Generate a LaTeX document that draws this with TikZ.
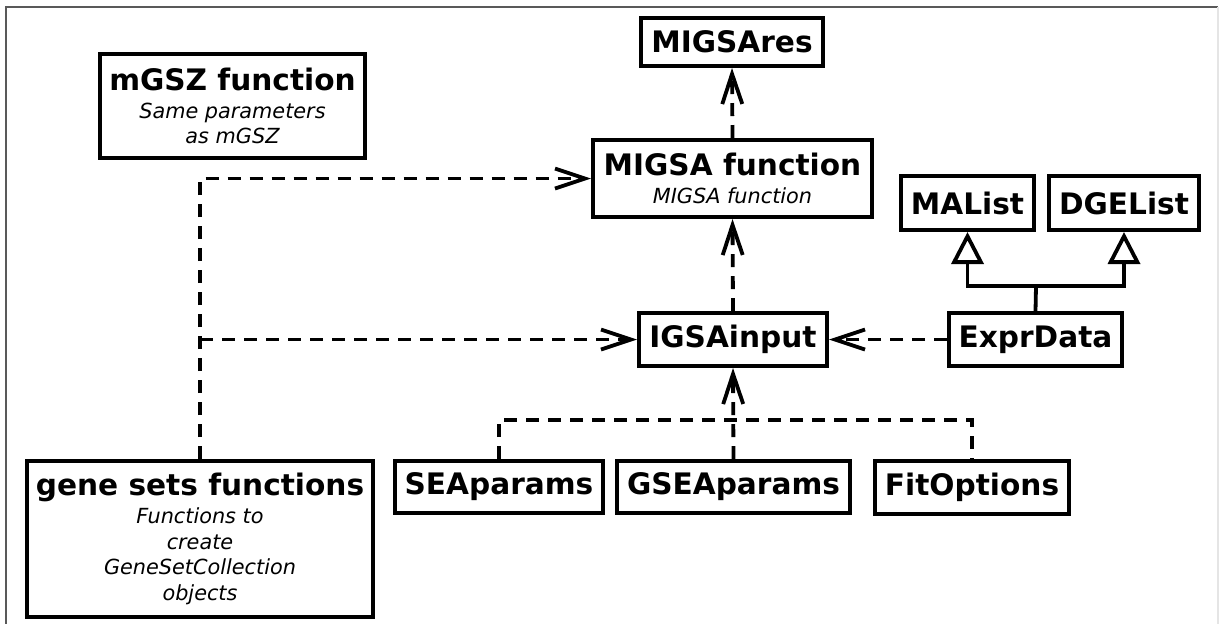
\documentclass[tikz,border=0pt]{standalone}
\usepackage{fontspec}
\setmainfont{DejaVu Sans}
\usepackage{tikz}
\usetikzlibrary{arrows.meta,calc}

\newcommand{\umltitle}[1]{{\bfseries\fontsize{14.8}{17}\selectfont #1}}
\newcommand{\umlnote}[1]{{\itshape #1}}

\begin{document}
\begin{tikzpicture}[x=0.5pt, y=-0.5pt,
    umlbox/.style={draw, line width=2pt, inner sep=0pt, align=center, fill=white,
                   font=\fontsize{10.4}{12.9}\selectfont},
    dep/.style={line width=1.9pt, dash pattern=on 6.5pt off 4.5pt,
                -{Straight Barb[length=15pt, width=10pt, line width=1.9pt]}},
    deplink/.style={line width=1.9pt, dash pattern=on 6.5pt off 4.5pt},
    inh/.style={line width=1.9pt, -{Triangle[open, length=16pt, width=16pt, line width=1.9pt]}},
    inhlink/.style={line width=1.9pt}]
    \useasboundingbox (0,0) rectangle (1219,623);
    \clip (0,0) rectangle (1219,623);

    % the frame
    \draw[gray!70!black, line width=1pt] (6,700) -- (6,6.5) -- (1218,6.5);
    \draw[gray!20, line width=1pt] (1218,6.5) -- (1218,700);

    % the boxes
    \node[umlbox, minimum width=265*0.5pt, minimum height=104*0.5pt] (mgsz) at (232.5,106)
        {\umltitle{mGSZ function}\\[1pt]\umlnote{Same parameters}\\\umlnote{as mGSZ}};
    \node[umlbox, minimum width=182*0.5pt, minimum height=48*0.5pt] (migsares) at (732,42)
        {\umltitle{MIGSAres}};
    \node[umlbox, minimum width=279*0.5pt, minimum height=77*0.5pt] (migsa) at (732.5,178.5)
        {\umltitle{MIGSA function}\\[1pt]\umlnote{MIGSA function}};
    \node[umlbox, minimum width=133*0.5pt, minimum height=54*0.5pt] (malist) at (967.5,203)
        {\umltitle{MAList}};
    \node[umlbox, minimum width=150*0.5pt, minimum height=54*0.5pt] (dgelist) at (1124,203)
        {\umltitle{DGEList}};
    \node[umlbox, minimum width=188*0.5pt, minimum height=53*0.5pt] (igsainput) at (733,339.5)
        {\umltitle{IGSAinput}};
    \node[umlbox, minimum width=173*0.5pt, minimum height=53*0.5pt] (exprdata) at (1035.5,339.5)
        {\umltitle{ExprData}};
    \node[umlbox, minimum width=208*0.5pt, minimum height=52*0.5pt] (seaparams) at (499,487)
        {\umltitle{SEAparams}};
    \node[umlbox, minimum width=233*0.5pt, minimum height=52*0.5pt] (gseaparams) at (733.5,487)
        {\umltitle{GSEAparams}};
    \node[umlbox, minimum width=194*0.5pt, minimum height=53*0.5pt] (fitoptions) at (972,487.5)
        {\umltitle{FitOptions}};
    \node[umlbox, minimum width=346*0.5pt, minimum height=156*0.5pt] (genesets) at (200,539)
        {\umltitle{gene sets functions}\\[1pt]\umlnote{Functions to}\\\umlnote{create}\\
         \umlnote{GeneSetCollection}\\\umlnote{objects}};

    % helper points for the joins
    \coordinate (paramhub) at (733,420);
    \coordinate (exprhub) at (1036,286);

    % the dependencies
    \draw[dep] (genesets.north) |- (migsa.west);
    \draw[dep] (genesets.north |- igsainput.west) -- (igsainput.west);
    \draw[dep] (igsainput.north) -- (migsa.south);
    \draw[dep] (migsa.north) -- (migsares.south);
    \draw[dep] (exprdata.west) -- (igsainput.east);
    \draw[deplink] (seaparams.north) |- (paramhub) -| (fitoptions.north);
    \draw[dep] (gseaparams.north) -- (igsainput.south);

    % the inheritance
    \draw[inhlink] (exprdata.north) -- (exprhub);
    \draw[inh] (exprhub) -| (malist.south);
    \draw[inh] (exprhub) -| (dgelist.south);
\end{tikzpicture}
\end{document}
